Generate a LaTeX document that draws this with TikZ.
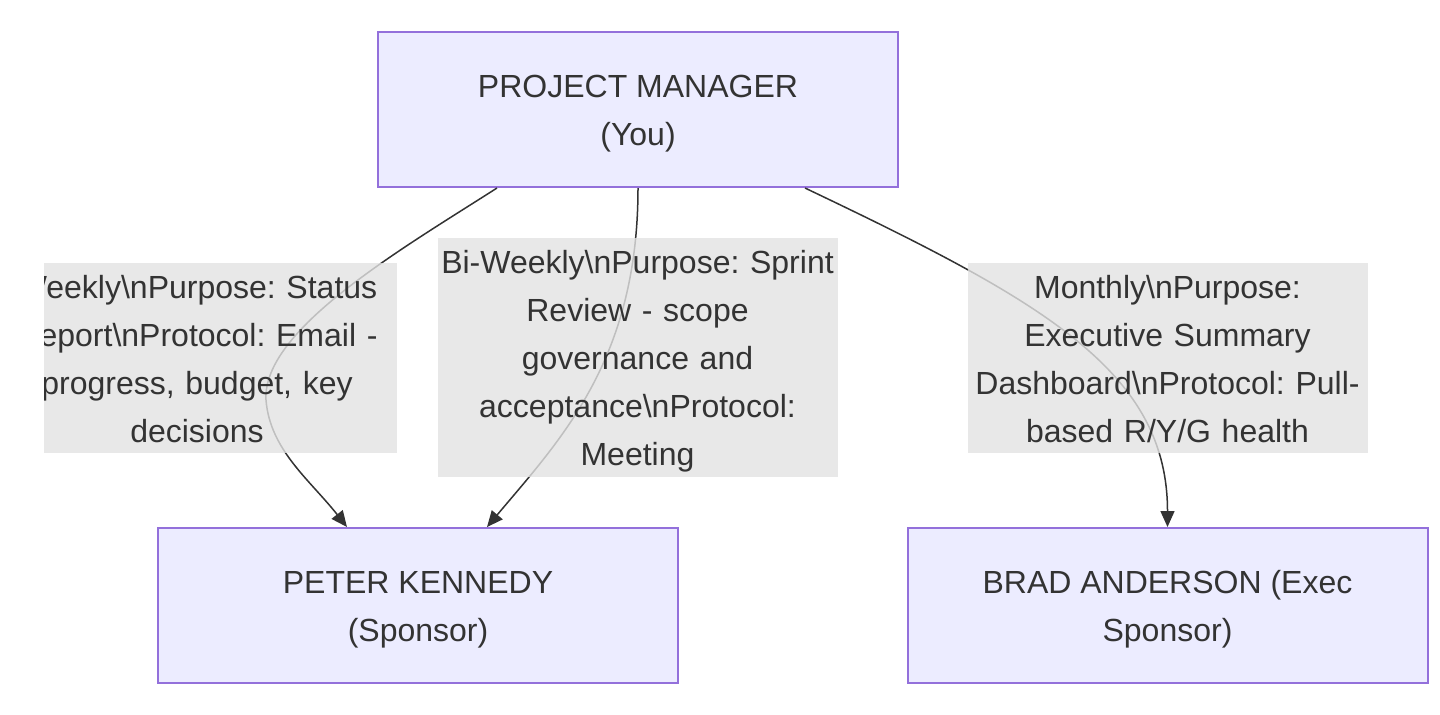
\documentclass[tikz,border=0pt]{standalone}
\usepackage{fontspec}
\setmainfont{Liberation Sans}
\usetikzlibrary{arrows.meta}
\definecolor{boxfill}{HTML}{ECECFF}
\definecolor{boxline}{HTML}{9370DB}
\definecolor{inkgray}{HTML}{333333}
\definecolor{labelgray}{RGB}{226,226,226}
\newcommand{\tp}{\rule{0pt}{17.5pt}}
\newcommand{\bt}{\rule[-5.5pt]{0pt}{5.5pt}}
\frenchspacing

\begin{document}
\begin{tikzpicture}[x = 0.5pt, y = -0.5pt,
	person/.style = {draw=boxline, fill=boxfill, line width=1pt, minimum width=260pt, minimum height=77.5pt, align=center, text=inkgray, font=\fontsize{16}{24}\selectfont},
	talk/.style = {fill=labelgray, fill opacity=0.8, text opacity=1, text=inkgray, text width=200pt, align=center, inner sep=0pt, font=\fontsize{16}{24}\selectfont},
	link/.style = {draw=inkgray, line width=0.75pt, -{Triangle[length=8pt,width=7pt]}}]
	\useasboundingbox (0,0) rectangle (1440,714);

	% the three people
	\node[person] (pm) at (638,109.5) {\tp PROJECT MANAGER\\(You)\bt};
	\node[person] (peter) at (418,605.5) {\tp PETER KENNEDY\\(Sponsor)\bt};
	\node[person] (brad) at (1167.5,605.5) {\tp BRAD ANDERSON (Exec\\Sponsor)\bt};

	% connectors
	\draw[link] ([xshift=60pt]pm.south west) .. controls (400,250) and (262,330) .. (266,400)
		.. controls (270,450) and (310,480) .. ([xshift=-35.5pt]peter.north);
	\draw[link] (pm.south) .. controls (638,360) and (560,440) .. ([xshift=34.5pt]peter.north);
	\draw[link] ([xshift=83.5pt]pm.south) .. controls (1040,300) and (1167.5,370) .. (brad.north);

	% labels
	\begin{scope}
		\clip (44,0) rectangle (1440,714);
		\node[talk, minimum height=95pt] (weekly) at (197,358)
			{\tp Weekly\textbackslash nPurpose: Status\\Report\textbackslash nProtocol: Email -\\progress, budget, key\\decisions\bt};
	\end{scope}
	\node[talk, minimum height=119.5pt] (biweekly) at (637.5,357.5)
		{\tp Bi-Weekly\textbackslash nPurpose: Sprint\\Review - scope\\governance and\\acceptance\textbackslash nProtocol:\\Meeting\bt};
	\node[talk, minimum height=95pt] (monthly) at (1167.5,358)
		{\tp Monthly\textbackslash nPurpose:\\Executive Summary\\Dashboard\textbackslash nProtocol: Pull-\\based R/Y/G health\bt};
\end{tikzpicture}
\end{document}
